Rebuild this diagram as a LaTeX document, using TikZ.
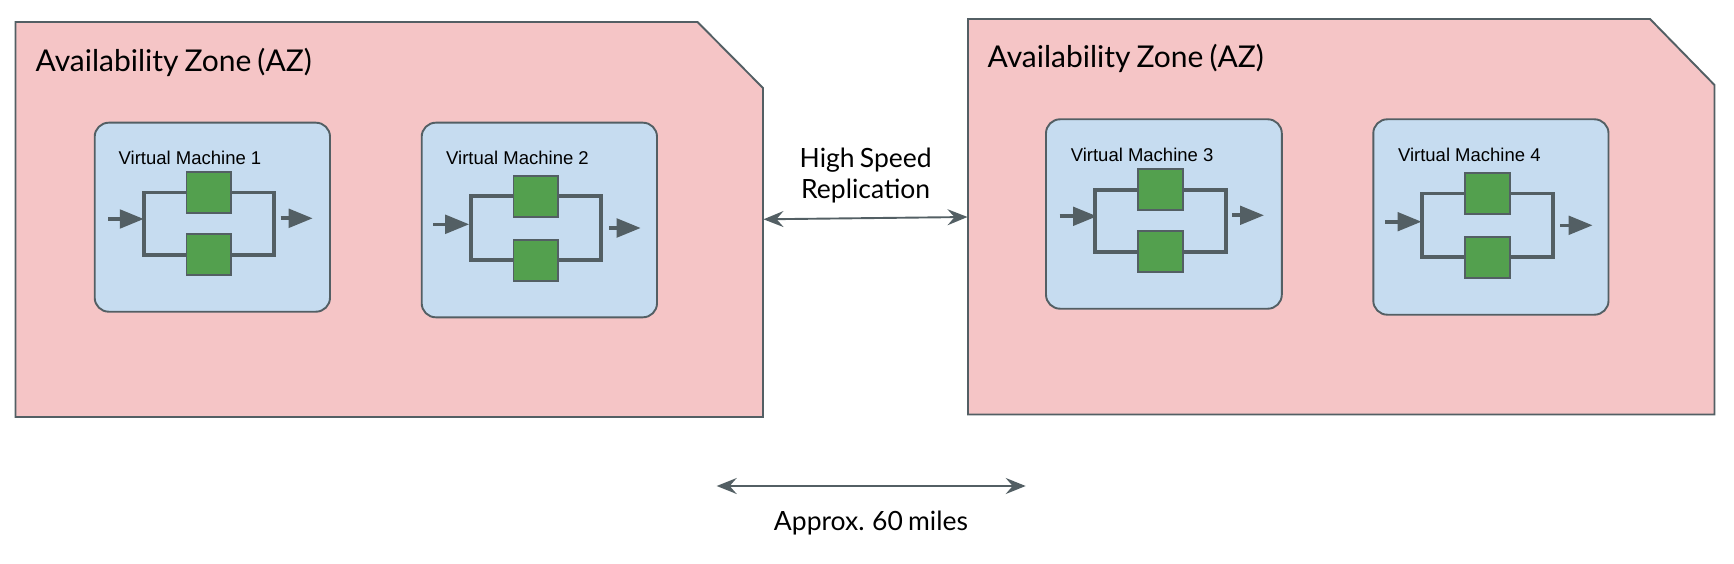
\documentclass[tikz,border=0pt]{standalone}
\usepackage{fontspec}
\setmainfont[WordSpace=0.78]{Lato}
\newfontfamily\vmfont{Liberation Sans}
\usetikzlibrary{arrows.meta}
\definecolor{azpink}{HTML}{F5C5C6}
\definecolor{vmblue}{HTML}{C6DCF0}
\definecolor{coregreen}{HTML}{53A04E}
\definecolor{edgegrey}{HTML}{535F64}
\tikzset{
  azbox/.style={draw=edgegrey,fill=azpink,line width=1.9pt,line join=miter},
  aztext/.style={anchor=base west,inner sep=0pt,font=\fontsize{30}{34}\selectfont},
  vmbox/.style={draw=edgegrey,fill=vmblue,line width=1.9pt,rounded corners=14pt,inner sep=0pt},
  vmtext/.style={anchor=base west,inner sep=0pt,font=\vmfont\fontsize{18.5}{22}\selectfont},
  core/.style={draw=edgegrey,fill=coregreen,line width=1.8pt,inner sep=0pt,outer sep=0pt,minimum width=44.5pt,minimum height=41pt},
  wire/.style={draw=edgegrey,line width=3.9pt,line join=miter},
  flow/.style={draw=edgegrey,line width=3.6pt,-{Triangle[length=24pt,width=18.5pt]}},
  span/.style={draw=edgegrey,line width=1.9pt,{Stealth[length=20pt,width=16pt,inset=7pt]}-{Stealth[length=20pt,width=16pt,inset=7pt]}},
  note/.style={inner sep=0pt,align=center,font=\fontsize{26.5}{31.8}\selectfont}
}
\begin{document}
\begin{tikzpicture}[x=1pt,y=-1pt]
\useasboundingbox (0,0) rectangle (1734,564);
% availability zones
\draw[azbox] (15.5,22) -- (697.5,22) -- (763,88) -- (763,417) -- (15.5,417) -- cycle;
\draw[azbox] (968,19) -- (1650,19) -- (1714.5,85) -- (1714.5,414.5) -- (968,414.5) -- cycle;
\coordinate (az1e) at (763.5,219.3);
\coordinate (az2w) at (967.5,217);
\node[aztext] (az1t) at (35.5,71.2) {Availability Zone (AZ)};
\node[aztext] (az2t) at (987.5,68) {Availability Zone (AZ)};
% virtual machines
\foreach \n/\xa/\ya/\xb/\yb/\tx/\ty/\gc/\gta/\gtb/\fa/\fb/\ai/\tipi/\yi/\ao/\tipo/\yo in {
 1/94.7/122.7/330/311.7/118.5/165/208.8/192.5/254.6/143.6/274/108.3/143.8/219/280.7/312.7/218.3,
 2/421.7/122.7/657/317.3/446/165/535.8/196.3/260.3/470.9/601.3/433.3/469.2/224.3/609/640.7/228,
 3/1046/119.3/1281.8/308.7/1070.6/162/1160.5/189.7/251.8/1095/1226/1059.5/1097/216.3/1232/1264/215.3,
 4/1373.3/119.3/1608.5/314.7/1397.8/162/1487.5/193.5/257.3/1422.3/1553/1385/1421.5/221.7/1560.4/1592.6/225.3}
{
  \node[vmbox,minimum width={\xb-\xa},minimum height={\yb-\ya}] (vm\n) at ({(\xa+\xb)/2},{(\ya+\yb)/2}) {};
  \node[vmtext] (vm\n t) at (\tx,\ty) {Virtual Machine \n};
  \node[core] (top\n) at (\gc,\gta) {};
  \node[core] (bot\n) at (\gc,\gtb) {};
  \coordinate (fl\n) at (\fa,{(\gta+\gtb)/2});
  \coordinate (fr\n) at (\fb,{(\gta+\gtb)/2});
  \draw[wire] (top\n.west) -| (fl\n) |- (bot\n.west);
  \draw[wire] (top\n.east) -| (fr\n) |- (bot\n.east);
  \coordinate (ins\n) at (\ai,\yi);
  \coordinate (int\n) at (\tipi,\yi);
  \coordinate (ous\n) at (\ao,\yo);
  \coordinate (out\n) at (\tipo,\yo);
  \draw[flow] (ins\n) -- (int\n);
  \draw[flow] (ous\n) -- (out\n);
}
% links between the zones
\draw[span] (az1e) -- (az2w);
\node[note] (hs) at (865.7,175.5) {High Speed\\Replication};
\coordinate (dl) at (716.7,486);
\coordinate (dr) at (1025.7,486);
\draw[span] (dl) -- (dr);
\node[anchor=base,inner sep=0pt,font=\fontsize{26.5}{31.8}\selectfont] (dist) at (871,530.5) {Approx. 60 miles};
\end{tikzpicture}
\end{document}
